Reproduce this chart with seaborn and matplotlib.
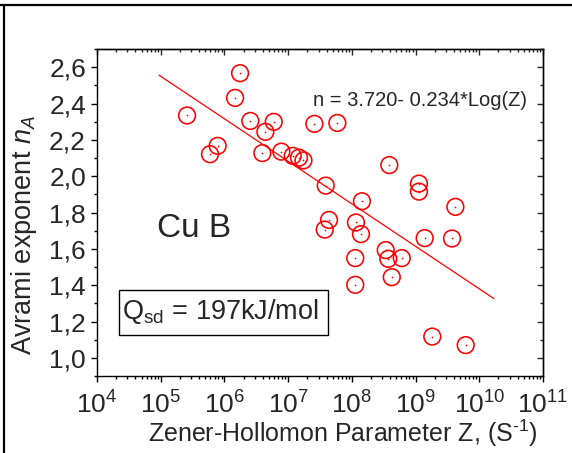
import numpy as np
import pandas as pd
import matplotlib
matplotlib.use("Agg")
import matplotlib.pyplot as plt
import seaborn as sns
from matplotlib.ticker import LogLocator, MultipleLocator, FuncFormatter, NullFormatter
from matplotlib.lines import Line2D
from matplotlib.patches import Rectangle

# ---- data ----
zener_z = [2.59e5, 5.94e5, 7.83e5, 1.76e6, 1.47e6, 2.55e6, 5.94e6, 4.39e6,
           3.94e6, 7.82e6, 1.18e7, 1.48e7, 1.74e7, 2.58e7, 5.92e7, 3.89e7,
           3.87e8, 1.13e9, 1.13e9, 1.44e8, 4.21e9, 4.38e7, 3.75e7, 1.16e8,
           1.39e8, 1.39e9, 3.73e9, 3.40e8, 3.73e8, 6.07e8, 1.13e8, 4.23e8,
           1.13e8, 1.83e9, 6.12e9]
avrami_n = [2.334, 2.121, 2.167, 2.567, 2.431, 2.304, 2.299, 2.244,
            2.127, 2.135, 2.112, 2.102, 2.087, 2.288, 2.293, 1.948,
            2.061, 1.959, 1.915, 1.862, 1.831, 1.759, 1.706, 1.745,
            1.681, 1.659, 1.657, 1.593, 1.545, 1.549, 1.549, 1.444,
            1.402, 1.117, 1.070]
fit_z = [9.4e4, 1.70e10]
fit_n = [2.556, 1.326]
y_ticks = [1.0, 1.2, 1.4, 1.6, 1.8, 2.0, 2.2, 2.4, 2.6]
x_decades = [4, 5, 6, 7, 8, 9, 10, 11]

fit_label = "n = 3.720- 0.234*Log(Z)"
sample_label = "Cu B"
q_label = r"Q$\mathregular{_{sd}}$ = 197kJ/mol"
x_label = "Zener-Hollomon Parameter Z, (S$\\mathregular{^{\u20101}}$)"
y_label = r"Avrami exponent $\mathit{n}_\mathit{A}$"

df = pd.DataFrame({"Z": zener_z, "n": avrami_n})
fit_df = pd.DataFrame({"Z": fit_z, "n": fit_n})

sns.set_style("white")
plt.rcParams["font.family"] = ["Liberation Sans", "DejaVu Sans"]
plt.rcParams["mathtext.fontset"] = "custom"
plt.rcParams["mathtext.rm"] = "Liberation Sans"
plt.rcParams["mathtext.it"] = "Liberation Sans:italic"
plt.rcParams["mathtext.bf"] = "Liberation Sans:bold"

fig = plt.figure(figsize=(5.72, 4.53), dpi=100)
ax = fig.add_axes([97 / 572, 1 - 376 / 453, 446 / 572, 327 / 453])

ax.set_xscale("log")
sns.lineplot(data=fit_df, x="Z", y="n", ax=ax, color="red", linewidth=0.9)
sns.scatterplot(data=df, x="Z", y="n", ax=ax, marker="o", s=145,
                facecolor="none", edgecolor="red", linewidth=1.15, zorder=3)
sns.scatterplot(data=df, x="Z", y="n", ax=ax, marker="o", s=1.5,
                color="red", linewidth=0, zorder=4)

ax.set_xlim(10.0 ** x_decades[0], 10.0 ** x_decades[-1])
ax.set_ylim(0.9, 2.7)

ax.xaxis.set_major_locator(LogLocator(base=10, numticks=20))
ax.xaxis.set_minor_locator(LogLocator(base=10, subs=np.arange(2, 10), numticks=20))
ax.xaxis.set_minor_formatter(NullFormatter())
ax.xaxis.set_major_formatter(FuncFormatter(
    lambda v, p: r"$\mathregular{10^{%d}}$" % int(round(np.log10(v)))))
ax.set_yticks(y_ticks)
ax.yaxis.set_minor_locator(MultipleLocator(0.1))
ax.yaxis.set_major_formatter(FuncFormatter(lambda v, p: ("%.1f" % v).replace(".", ",")))

for s in ax.spines.values():
    s.set_linewidth(1.0)
    s.set_color("black")
ax.tick_params(which="both", direction="out", color="black", width=1.0,
               bottom=True, left=True, top=False, right=False)
ax.tick_params(which="major", length=4.0)
ax.tick_params(which="minor", length=2.3)
ax.tick_params(axis="y", which="major", labelsize=19, pad=4)
ax.tick_params(axis="x", which="major", labelsize=19, pad=7)

top = ax.secondary_xaxis("top")
top.xaxis.set_major_locator(LogLocator(base=10, numticks=20))
top.xaxis.set_minor_locator(LogLocator(base=10, subs=np.arange(2, 10), numticks=20))
top.xaxis.set_minor_formatter(NullFormatter())
top.tick_params(which="both", direction="in", labeltop=False, width=1.0)
top.tick_params(which="major", length=4.0)
top.tick_params(which="minor", length=2.3)
top.spines["top"].set_linewidth(1.0)

right = ax.secondary_yaxis("right")
right.set_yticks(y_ticks)
right.yaxis.set_minor_locator(MultipleLocator(0.1))
right.tick_params(which="both", direction="in", labelright=False, width=1.0)
right.tick_params(which="major", length=4.0)
right.tick_params(which="minor", length=2.3)
right.spines["right"].set_linewidth(1.0)

ax.set_xlabel(x_label, fontsize=18)
ax.set_ylabel(y_label, fontsize=19.5)
ax.xaxis.label.set_va("baseline")
ax.yaxis.label.set_va("baseline")
ax.xaxis.set_label_coords(0.55, (376 - 442) / 327)
ax.yaxis.set_label_coords((31 - 97) / 446, 0.432)

ax.text((313 - 97) / 446, (376 - 106.5) / 327, fit_label, transform=ax.transAxes,
        fontsize=14.5, ha="left", va="baseline")
ax.text((157 - 97) / 446, (376 - 237) / 327, sample_label, transform=ax.transAxes,
        fontsize=24, ha="left", va="baseline")
ax.add_patch(Rectangle(((119 - 97) / 446, (376 - 335) / 327), (328 - 119) / 446, 45 / 327,
                       transform=ax.transAxes, facecolor="white", edgecolor="black",
                       linewidth=1.0, zorder=5))
ax.text((122 - 97) / 446, (376 - 319) / 327, q_label, transform=ax.transAxes,
        fontsize=19.5, ha="left", va="baseline", zorder=6)

# outer frame pieces (top and left)
fig.add_artist(Line2D([0, 1], [1 - 5 / 453, 1 - 5 / 453], transform=fig.transFigure,
                      color="black", linewidth=1.6))
fig.add_artist(Line2D([4 / 572, 4 / 572], [0, 1 - 5 / 453], transform=fig.transFigure,
                      color="black", linewidth=1.6))

fig.savefig("out.png", dpi=100)
